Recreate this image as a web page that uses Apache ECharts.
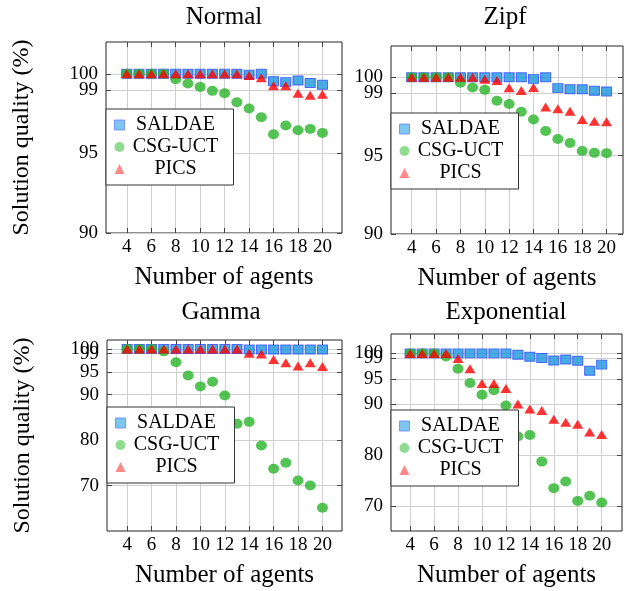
<!DOCTYPE html>
<html><head><meta charset="utf-8">
<script src="https://cdn.jsdelivr.net/npm/echarts@6/dist/echarts.min.js"></script>
<style>html,body{margin:0;padding:0;background:#fff}#c{width:625px;height:591px}</style>
</head><body><div id="c"></div>
<script>
// ---------- data ----------
const agents = [4,5,6,7,8,9,10,11,12,13,14,15,16,17,18,19,20];
const xTicks = [4,6,8,10,12,14,16,18,20];
const yTicksTop = [90,95,99,100];
const yTicksBottom = [70,80,90,95,99,100];
const seriesNames = ['SALDAE','CSG-UCT','PICS'];
const panelTitles = ['Normal','Zipf','Gamma','Exponential'];

const normalSALDAE = [100,100,100,100,100,100,100,100,100,100,99.94,100,99.54,99.48,99.58,99.43,99.31];
const normalCSG    = [100,100,100,100,99.66,99.39,99.18,98.93,98.78,98.22,97.82,97.27,96.2,96.75,96.46,96.54,96.29];
const normalPICS   = [100,100,100,100,100,100,100,100,100,100,99.9,99.75,99.25,99.25,98.78,98.66,98.72];

const zipfSALDAE = [100,100,100,100,100,100,100,100,100,100,99.9,100,99.31,99.24,99.24,99.14,99.1];
const zipfCSG    = [100,100,100,100,99.66,99.35,99.2,98.51,98.3,97.8,97.31,96.58,96.06,95.81,95.3,95.18,95.16];
const zipfPICS   = [100,100,100,100,100,100,99.87,99.79,99.33,99.16,99.35,98.11,97.99,97.84,97.31,97.2,97.17];

const gammaSALDAE = [100,100,100,100,100,100,100,100,100,100,99.9,99.9,99.9,99.9,99.9,99.9,99.9];
const gammaCSG    = [100,100,100,99.5,97.1,94.2,91.8,92.8,89.8,83.6,84.0,78.8,73.7,75.0,71.1,70.0,65.1];
const gammaPICS   = [100,100,100,100,100,100,100,100,100,100,99.1,98.9,97.7,97.0,96.3,97.0,96.2];

const expSALDAE = [100,100,100,100,100,100,100,100,100,99.75,99.35,99.1,98.6,98.8,98.57,96.6,97.8];
const expCSG    = [100,100,100,99.4,97.0,94.2,91.9,92.8,89.8,83.7,84.0,78.8,73.6,74.9,71.1,72.1,70.8];
const expPICS   = [100,100,100,100,99.0,97.0,94.1,94.1,93.1,90.1,89.1,88.8,87.1,86.5,86.1,84.6,84.1];

// ---------- layout ----------
const SERIF = 'Liberation Serif';
const panels = [
  {data:[normalSALDAE,normalCSG,normalPICS], yTicks:yTicksTop, ymin:90, ymax:102, xmin:2.3, xmax:21.6,
   grid:{left:106, top:42, width:236, height:191}, legend:{left:106, top:109}, tx:224, ty:5, yName:true},
  {data:[zipfSALDAE,zipfCSG,zipfPICS], yTicks:yTicksTop, ymin:90, ymax:102, xmin:2.3, xmax:21.35,
   grid:{left:391, top:46, width:232, height:188}, legend:{left:391, top:113}, tx:505, ty:5, yName:false},
  {data:[gammaSALDAE,gammaCSG,gammaPICS], yTicks:yTicksBottom, ymin:60, ymax:102, xmin:2.35, xmax:21.6,
   grid:{left:107, top:340, width:235, height:191}, legend:{left:107, top:407}, tx:221, ty:300, yName:true},
  {data:[expSALDAE,expCSG,expPICS], yTicks:yTicksBottom, ymin:65.2, ymax:103.8, xmin:2.4, xmax:21.7,
   grid:{left:391, top:334, width:231, height:197}, legend:{left:391, top:410}, tx:506, ty:300, yName:false}
];

const styles = [
  {symbol:'rect', symbolSize:[10,9], itemStyle:{color:'#1c96dc', borderColor:'#2f4cff', borderWidth:1}},
  {symbol:'circle', symbolSize:[11,10], itemStyle:{color:'#28b428'}},
  {symbol:'triangle', symbolSize:[11,9], itemStyle:{color:'#ff0000'}}
];

const option = {animation:false, backgroundColor:'#fff', title:[], grid:[], xAxis:[], yAxis:[], legend:[], series:[]};

panels.forEach((p,i)=>{
  option.grid.push(Object.assign({show:true, borderColor:'#222', borderWidth:1, outerBoundsMode:'none', containLabel:false}, p.grid));
  option.title.push({text:panelTitles[i], left:p.tx, top:p.ty, textAlign:'center', padding:0,
    textStyle:{fontFamily:SERIF, fontSize:25, fontWeight:'normal', color:'#000'}});
  const tickStyle = {show:true, inside:true, length:5, lineStyle:{color:'#444', width:1}};
  const labelStyle = {fontFamily:SERIF, fontSize:19, color:'#000', hideOverlap:false};
  // main x axis
  option.xAxis.push({type:'value', gridIndex:i, position:'bottom', min:p.xmin, max:p.xmax,
    name:'Number of agents', nameLocation:'middle', nameGap:32,
    nameTextStyle:{fontFamily:SERIF, fontSize:25, color:'#000'},
    axisLine:{show:false},
    axisTick:Object.assign({customValues:xTicks}, tickStyle),
    axisLabel:Object.assign({customValues:xTicks, margin:5}, labelStyle),
    splitLine:{show:true, lineStyle:{color:'#cfcfcf', width:1}}});
  // mirror x axis (top ticks)
  option.xAxis.push({type:'value', gridIndex:i, position:'top', min:p.xmin, max:p.xmax,
    axisLine:{show:false}, axisTick:Object.assign({customValues:xTicks}, tickStyle),
    axisLabel:{show:false}, splitLine:{show:false}});
  // y tick labels split over two left axes so that close labels (99/100) are all drawn
  const labA = p.yTicks.filter((v,j)=> (p.yTicks.length-1-j) % 2 === 1);
  const labB = p.yTicks.filter((v,j)=> (p.yTicks.length-1-j) % 2 === 0);
  const ya = {type:'value', gridIndex:i, position:'left', min:p.ymin, max:p.ymax,
    axisLine:{show:false},
    axisTick:Object.assign({customValues:p.yTicks}, tickStyle),
    axisLabel:Object.assign({customValues:labA, margin:8}, labelStyle),
    splitLine:{show:true, lineStyle:{color:'#cfcfcf', width:1}}};
  if (p.yName) {
    ya.name = 'Solution quality (%)';
    ya.nameLocation = 'middle';
    ya.nameGap = 72;
    ya.nameTextStyle = {fontFamily:SERIF, fontSize:24, color:'#000'};
  }
  option.yAxis.push(ya);
  // mirror y axis (right ticks)
  option.yAxis.push({type:'value', gridIndex:i, position:'right', min:p.ymin, max:p.ymax,
    axisLine:{show:false}, axisTick:Object.assign({customValues:p.yTicks}, tickStyle),
    axisLabel:{show:false}, splitLine:{show:false}});
  // second left axis with the remaining labels
  option.yAxis.push({type:'value', gridIndex:i, position:'left', min:p.ymin, max:p.ymax,
    axisLine:{show:false}, axisTick:{show:false}, splitLine:{show:false},
    axisLabel:Object.assign({customValues:labB, margin:8}, labelStyle)});
  // legend
  option.legend.push({left:p.legend.left, top:p.legend.top, orient:'vertical',
    backgroundColor:'#fff', borderColor:'#333', borderWidth:1, borderRadius:0,
    padding:[6,12,6,8], itemGap:2, itemWidth:10, itemHeight:10, selectedMode:false,
    data:[
      {name:'SALDAE', icon:'rect', itemStyle:{color:'#5cb8ec', borderColor:'#6a80ff', borderWidth:1}},
      {name:'CSG-UCT', icon:'circle', itemStyle:{color:'#74d274'}},
      {name:'PICS', icon:'triangle', itemStyle:{color:'#ff6a6a'}}
    ],
    formatter: n => '{t|' + n + '}',
    textStyle:{rich:{t:{width:92, align:'center', fontFamily:SERIF, fontSize:20, lineHeight:20, color:'#000'}}}
  });
  // series
  p.data.forEach((vals,k)=>{
    option.series.push(Object.assign({
      type:'scatter', name:seriesNames[k], xAxisIndex:2*i, yAxisIndex:3*i,
      data: agents.map((a,j)=>[a, vals[j]]), z:2+k
    }, styles[k]));
  });
});

const chart = echarts.init(document.getElementById('c'), null, {renderer:'canvas'});
chart.setOption(option);
</script>
</body></html>
